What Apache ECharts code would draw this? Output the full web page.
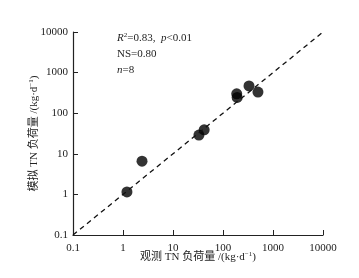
<!DOCTYPE html>
<html>
<head>
<meta charset="utf-8">
<script src="https://cdn.jsdelivr.net/npm/echarts@6/dist/echarts.min.js"></script>
<style>
  html, body { margin: 0; padding: 0; background: #fff; }
  #chart { width: 359px; height: 278px; }
</style>
</head>
<body>
<div id="chart"></div>
<script>
'use strict'

const FONT = '"Liberation Serif", "Times New Roman", "Noto Sans CJK SC", serif'

// observed vs simulated TN load (kg/d)
const observed = [1.2, 2.4, 33, 42, 188, 192, 331, 500]
const simulated = [1.15, 6.6, 29, 39, 300, 245, 470, 331]
const oneToOne = [0.1, 10000]
const tickLabels = ['0.1', '1', '10', '100', '1000', '10000']

const chart = echarts.init(document.getElementById('chart'))

const sup = { fontSize: 7, padding: [0, 0, 6, 0], fontFamily: FONT, color: '#222' }
const base = { fontSize: 11, fontFamily: FONT, color: '#222' }

function logAxis (name) {
  return {
    type: 'log',
    logBase: 10,
    min: 0.1,
    max: 10000,
    name,
    nameLocation: 'middle',
    nameMoveOverlap: false,
    nameTextStyle: { rich: { b: base, s: sup } },
    axisLine: { lineStyle: { color: '#222', width: 1.2 } },
    axisTick: { inside: true, length: 5, lineStyle: { color: '#222' } },
    minorTick: { show: false },
    splitLine: { show: false },
    axisLabel: {
      fontSize: 11,
      fontFamily: FONT,
      color: '#222',
      formatter: v => {
        const i = Math.round(Math.log10(v)) + 1
        return tickLabels[i] || ''
      }
    }
  }
}

const xAxis = logAxis('{b|观测 TN 负荷量 /(kg·d}{s|−1}{b|)}')
xAxis.nameGap = 16
xAxis.axisLabel.margin = 8
const yAxis = logAxis('{b|模拟 TN 负荷量 /(kg·d}{s|−1}{b|)}')
yAxis.nameGap = 32
yAxis.axisLabel.margin = 5

const option = {
  animation: false,
  grid: { left: 73, right: 36, top: 32, bottom: 43 },
  xAxis,
  yAxis,
  graphic: [{
    type: 'text',
    left: 117,
    top: 30,
    style: {
      text: '{i|R}{s|2}{b|=0.83,  }{i|p}{b|<0.01}\n{b|NS=0.80}\n{i|n}{b|=8}',
      lineHeight: 16,
      rich: {
        b: { fontSize: 11, fontFamily: FONT, fill: '#222', lineHeight: 16 },
        i: { fontSize: 11, fontFamily: FONT, fontStyle: 'italic', fill: '#222', lineHeight: 16 },
        s: { fontSize: 7, fontFamily: FONT, fill: '#222', padding: [0, 0, 6, 0], lineHeight: 16 }
      }
    }
  }],
  series: [
    {
      type: 'line',
      data: oneToOne.map(v => [v, v]),
      symbol: 'none',
      lineStyle: { color: '#111', width: 1.3, type: [5, 4] },
      silent: true
    },
    {
      type: 'scatter',
      data: observed.map((v, i) => [v, simulated[i]]),
      symbolSize: 11,
      itemStyle: { color: '#000' }
    }
  ]
}

chart.setOption(option)
</script>
</body>
</html>
